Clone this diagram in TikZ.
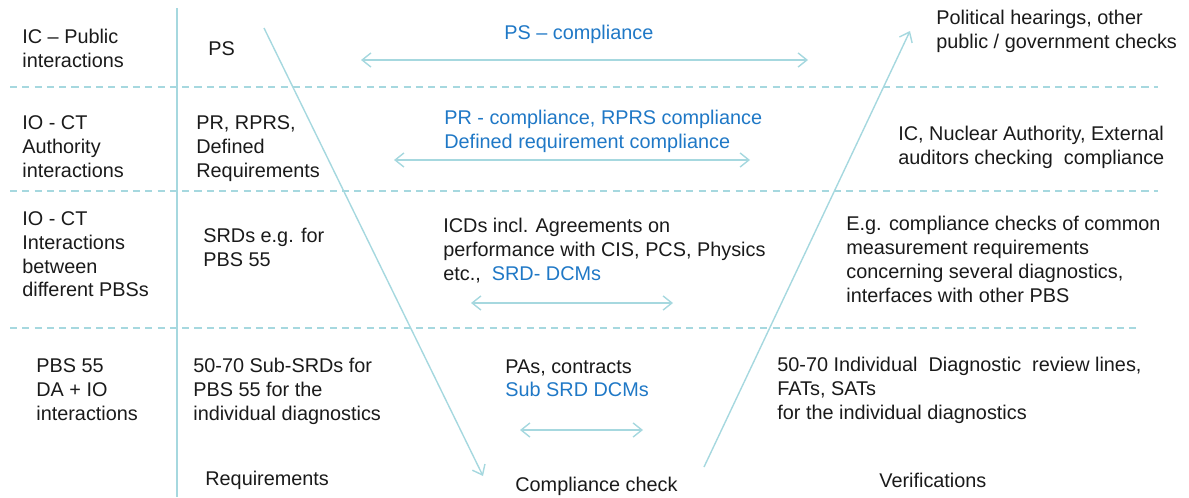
\documentclass[tikz,border=0pt]{standalone}
\usepackage{fontspec}
\setmainfont{Liberation Sans}
\usetikzlibrary{arrows.meta}
\definecolor{vline}{HTML}{A6D8DF}
\definecolor{vblue}{HTML}{1F78C6}
\definecolor{vtext}{HTML}{1A1A1A}

\begin{document}
\begin{tikzpicture}[x=0.02cm,y=-0.02cm]
	\tikzstyle{every node}+=[inner sep=0pt]
	\tikzstyle{txt}=[anchor=north west, align=left, text=vtext, font=\fontsize{11.3}{13.6}\selectfont]
	\tikzstyle{cmp}=[txt, text=vblue]
	\tikzstyle{rule}=[vline, line width=0.8pt]
	\tikzstyle{sep}=[rule, dash pattern=on 4pt off 3pt]
	\tikzstyle{arr}=[rule, -{Straight Barb[length=5pt,width=8pt]}]
	\tikzstyle{darr}=[rule, {Straight Barb[length=5pt,width=8pt]}-{Straight Barb[length=5pt,width=8pt]}]
	\useasboundingbox (0,0) rectangle (1189,497);
	% frame lines
	\coordinate (vtop) at (177,8);
	\coordinate (vbot) at (177,497);
	\draw [rule] (vtop) -- (vbot);
	\coordinate (s1a) at (10,87);
	\coordinate (s1b) at (1158,87);
	\draw [sep] (s1a) -- (s1b);
	\coordinate (s2a) at (10,191);
	\coordinate (s2b) at (1158,191);
	\draw [sep] (s2a) -- (s2b);
	\coordinate (s3a) at (10,328);
	\coordinate (s3b) at (1138,328);
	\draw [sep] (s3a) -- (s3b);
	% the V
	\coordinate (downa) at (264,28);
	\coordinate (downb) at (483,476);
	\draw [arr] (downa) -- (downb);
	\coordinate (upa) at (704,467);
	\coordinate (upb) at (910,31);
	\draw [arr] (upa) -- (upb);
	% left column
	\node [txt] (ic) at (22,29) {IC -- Public\\interactions};
	\node [txt] (ioa) at (22,115) {IO - CT\\Authority\\interactions};
	\node [txt] (iob) at (22,211) {IO - CT\\Interactions\\between\\different PBSs};
	\node [txt] (pbs) at (36,358) {PBS 55\\DA + IO\\interactions};
	% requirements
	\node [txt] (ps) at (208,41) {PS};
	\node [txt] (pr) at (196,115) {PR, RPRS,\\Defined\\Requirements};
	\node [txt] (srd) at (203,228) {SRDs e.g. for\\PBS 55};
	\node [txt] (sub) at (193,358) {50-70 Sub-SRDs for\\PBS 55 for the\\individual diagnostics};
	\node [txt] (req) at (205,471) {Requirements};
	% compliance
	\node [cmp] (pscomp) at (504,25) {PS -- compliance};
	\node [cmp] (prcomp) at (444,110) {PR - compliance, RPRS compliance\\Defined requirement compliance};
	\node [txt] (icd) at (443,218) {ICDs incl. Agreements on\\performance with CIS, PCS, Physics\\etc.,~ \textcolor{vblue}{SRD- DCMs}};
	\node [txt] (pas) at (505,359) {PAs, contracts\\\textcolor{vblue}{Sub SRD DCMs}};
	\node [txt] (cc) at (515,477) {Compliance check};
	% verifications
	\node [txt] (pol) at (936,10) {Political hearings, other\\public / government checks};
	\node [txt] (icn) at (898,126) {IC, Nuclear Authority, External\\auditors checking~ compliance};
	\node [txt] (eg) at (846,216) {E.g. compliance checks of common\\measurement requirements\\concerning several diagnostics,\\interfaces with other PBS};
	\node [txt] (ind) at (777,357) {50-70 Individual~ Diagnostic~ review lines,\\FATs, SATs\\for the individual diagnostics};
	\node [txt] (ver) at (879,473) {Verifications};
	% double arrows
	\coordinate (d1a) at (361,60);
	\coordinate (d1b) at (808,60);
	\draw [darr] (d1a) -- (d1b);
	\coordinate (d2a) at (394,160);
	\coordinate (d2b) at (750,160);
	\draw [darr] (d2a) -- (d2b);
	\coordinate (d3a) at (471,303);
	\coordinate (d3b) at (673,303);
	\draw [darr] (d3a) -- (d3b);
	\coordinate (d4a) at (520,430);
	\coordinate (d4b) at (643,430);
	\draw [darr] (d4a) -- (d4b);
\end{tikzpicture}
\end{document}
